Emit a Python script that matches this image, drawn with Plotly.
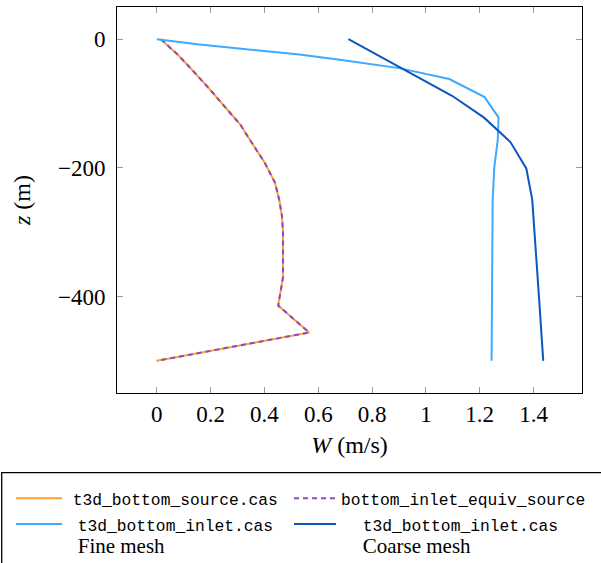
import plotly.graph_objects as go

# Vertical velocity profiles W(z)
z_source = [0, -25, -49, -78, -114, -132, -156, -192, -223, -250, -275, -300, -370, -414, -456, -500]
w_source = [0.015, 0.08, 0.134, 0.197, 0.271, 0.309, 0.345, 0.401, 0.439, 0.455, 0.465, 0.469, 0.469, 0.451, 0.566, 0.0]

z_equiv = z_source
w_equiv = w_source

z_fine = [0, -8, -24, -32, -45, -62, -90, -122, -156, -200, -249, -327, -500]
w_fine = [0.0, 0.15, 0.53, 0.68, 0.90, 1.087, 1.218, 1.270, 1.267, 1.254, 1.248, 1.246, 1.244]

z_coarse = [0, -88, -122, -160, -201, -249, -400, -500]
w_coarse = [0.712, 1.097, 1.216, 1.314, 1.373, 1.395, 1.420, 1.436]

x_ticks = [0, 0.2, 0.4, 0.6, 0.8, 1.0, 1.2, 1.4]
x_tick_text = ["0", "0.2", "0.4", "0.6", "0.8", "1", "1.2", "1.4"]
y_ticks = [0, -200, -400]
y_tick_text = ["0", "\u2212200", "\u2212400"]

SERIF = "Liberation Serif"
MONO = "Liberation Mono"

# page geometry (px)
W_FIG, H_FIG = 601, 563
M_L, M_R, M_T, M_B = 117, 19, 7, 170
PLOT_W = W_FIG - M_L - M_R
PLOT_H = H_FIG - M_T - M_B


def px_to_paper_x(px):
    return (px - M_L) / PLOT_W


def px_to_paper_y(py):
    return (H_FIG - M_B - py) / PLOT_H


def mono(text):
    return f"<span style='font-family:{MONO};font-size:16.3px'>{text}</span>"


def roman(text):
    return f"<span style='font-family:{SERIF};font-size:21px'>{text}</span>"


def gap(px):
    # horizontal spacer of the given width
    if px <= 0:
        return ""
    return f"<span style='font-family:{MONO};font-size:{px / 0.6:.2f}px'>&nbsp;</span>"


fig = go.Figure()
fig.add_trace(go.Scatter(
    x=w_source, y=z_source, mode="lines",
    line=dict(color="#FFA033", width=2),
    name=gap(5.7) + mono("t3d_bottom_source.cas"),
    legend="legend",
))
fig.add_trace(go.Scatter(
    x=w_equiv, y=z_equiv, mode="lines",
    line=dict(color="#8B4CC0", width=2, dash="5px,4px"),
    name=mono("bottom_inlet_equiv_source"),
    legend="legend2",
))
fig.add_trace(go.Scatter(
    x=w_fine, y=z_fine, mode="lines",
    line=dict(color="#3DAAFF", width=2),
    name=gap(10.7) + mono("t3d_bottom_inlet.cas") + "<br>" + gap(10.7) + roman("Fine mesh"),
    legend="legend",
))
fig.add_trace(go.Scatter(
    x=w_coarse, y=z_coarse, mode="lines",
    line=dict(color="#0A58BC", width=2),
    name=gap(21.7) + mono("t3d_bottom_inlet.cas") + "<br>" + gap(21.7) + roman("Coarse mesh"),
    legend="legend2",
))

axis_common = dict(
    showgrid=False, zeroline=False, automargin=False,
    showline=True, linecolor="black", linewidth=1, mirror="allticks",
    ticks="inside", ticklen=6, tickcolor="#9a9a9a", tickwidth=1,
    tickfont=dict(family=SERIF, size=23, color="black"),
)

fig.update_xaxes(
    range=[-0.148, 1.58], tickvals=x_ticks, ticktext=x_tick_text,
    title=dict(text="<i>W</i> (m/s)", font=dict(family=SERIF, size=24, color="black"), standoff=10),
    ticklabelstandoff=0,
    **axis_common,
)
fig.update_yaxes(
    range=[-550, 50], tickvals=y_ticks, ticktext=y_tick_text,
    title=dict(text="<i>z</i> (m)", font=dict(family=SERIF, size=24, color="black"), standoff=20),
    ticklabelstandoff=6,
    **axis_common,
)

# legend frame, running off the right and bottom edges of the page
fig.add_shape(
    type="rect", xref="paper", yref="paper",
    x0=px_to_paper_x(1.7), x1=px_to_paper_x(640),
    y0=px_to_paper_y(472.7), y1=px_to_paper_y(600),
    line=dict(color="black", width=1.3), fillcolor="rgba(0,0,0,0)",
)

legend_common = dict(
    orientation="v",
    xanchor="left",
    y=px_to_paper_y(480.5), yanchor="top",
    borderwidth=0,
    bgcolor="rgba(0,0,0,0)",
    font=dict(family=MONO, size=17.4, color="black"),
    valign="top",
    tracegroupgap=0,
)

fig.update_layout(
    width=W_FIG, height=H_FIG,
    margin=dict(l=M_L, r=M_R, t=M_T, b=M_B, autoexpand=False),
    plot_bgcolor="white", paper_bgcolor="white",
    showlegend=True,
    legend=dict(x=px_to_paper_x(11), itemwidth=46, **legend_common),
    legend2=dict(x=px_to_paper_x(289), itemwidth=42, **legend_common),
)

fig.write_html("out.html")
